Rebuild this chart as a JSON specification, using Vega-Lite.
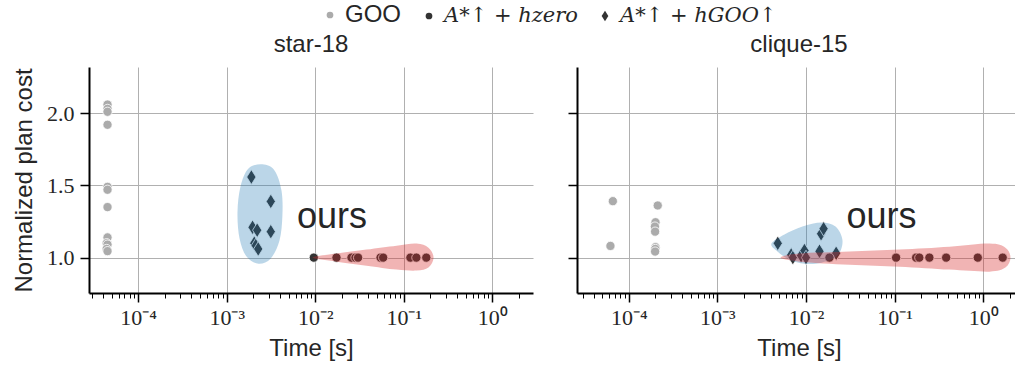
{
  "$schema": "https://vega.github.io/schema/vega-lite/v6.json",
  "padding": {"left": 12, "top": 10, "right": 0, "bottom": 3},
  "datasets": {
    "pts": [
      {"panel": "star-18", "method": "GOO", "time": 4.5e-5, "cost": 2.06},
      {"panel": "star-18", "method": "GOO", "time": 4.5e-5, "cost": 2.03},
      {"panel": "star-18", "method": "GOO", "time": 4.5e-5, "cost": 2.01},
      {"panel": "star-18", "method": "GOO", "time": 4.5e-5, "cost": 1.92},
      {"panel": "star-18", "method": "GOO", "time": 4.5e-5, "cost": 1.49},
      {"panel": "star-18", "method": "GOO", "time": 4.5e-5, "cost": 1.47},
      {"panel": "star-18", "method": "GOO", "time": 4.5e-5, "cost": 1.35},
      {"panel": "star-18", "method": "GOO", "time": 4.5e-5, "cost": 1.14},
      {"panel": "star-18", "method": "GOO", "time": 4.4e-5, "cost": 1.1},
      {"panel": "star-18", "method": "GOO", "time": 4.5e-5, "cost": 1.09},
      {"panel": "star-18", "method": "GOO", "time": 4.4e-5, "cost": 1.06},
      {"panel": "star-18", "method": "GOO", "time": 4.5e-5, "cost": 1.045},
      {"panel": "star-18", "method": "A*↑ + hGOO↑", "time": 0.0019, "cost": 1.558},
      {"panel": "star-18", "method": "A*↑ + hGOO↑", "time": 0.00315, "cost": 1.389},
      {"panel": "star-18", "method": "A*↑ + hGOO↑", "time": 0.00196, "cost": 1.21},
      {"panel": "star-18", "method": "A*↑ + hGOO↑", "time": 0.00221, "cost": 1.19},
      {"panel": "star-18", "method": "A*↑ + hGOO↑", "time": 0.00315, "cost": 1.18},
      {"panel": "star-18", "method": "A*↑ + hGOO↑", "time": 0.00205, "cost": 1.1},
      {"panel": "star-18", "method": "A*↑ + hGOO↑", "time": 0.00213, "cost": 1.083},
      {"panel": "star-18", "method": "A*↑ + hGOO↑", "time": 0.00227, "cost": 1.06},
      {"panel": "star-18", "method": "A*↑ + hzero", "time": 0.00964, "cost": 1.0},
      {"panel": "star-18", "method": "A*↑ + hzero", "time": 0.0174, "cost": 1.0},
      {"panel": "star-18", "method": "A*↑ + hzero", "time": 0.0257, "cost": 1.0},
      {"panel": "star-18", "method": "A*↑ + hzero", "time": 0.0285, "cost": 1.0},
      {"panel": "star-18", "method": "A*↑ + hzero", "time": 0.0305, "cost": 1.0},
      {"panel": "star-18", "method": "A*↑ + hzero", "time": 0.0547, "cost": 1.0},
      {"panel": "star-18", "method": "A*↑ + hzero", "time": 0.0586, "cost": 1.0},
      {"panel": "star-18", "method": "A*↑ + hzero", "time": 0.119, "cost": 1.0},
      {"panel": "star-18", "method": "A*↑ + hzero", "time": 0.139, "cost": 1.0},
      {"panel": "star-18", "method": "A*↑ + hzero", "time": 0.18, "cost": 1.0},
      {"panel": "clique-15", "method": "GOO", "time": 6.6e-5, "cost": 1.391},
      {"panel": "clique-15", "method": "GOO", "time": 6.2e-5, "cost": 1.081},
      {"panel": "clique-15", "method": "GOO", "time": 0.000212, "cost": 1.361},
      {"panel": "clique-15", "method": "GOO", "time": 0.0002, "cost": 1.245},
      {"panel": "clique-15", "method": "GOO", "time": 0.000197, "cost": 1.215},
      {"panel": "clique-15", "method": "GOO", "time": 0.000198, "cost": 1.18},
      {"panel": "clique-15", "method": "GOO", "time": 0.0002, "cost": 1.072},
      {"panel": "clique-15", "method": "GOO", "time": 0.000199, "cost": 1.06},
      {"panel": "clique-15", "method": "GOO", "time": 0.000198, "cost": 1.042},
      {"panel": "clique-15", "method": "A*↑ + hGOO↑", "time": 0.0048, "cost": 1.099},
      {"panel": "clique-15", "method": "A*↑ + hGOO↑", "time": 0.0068, "cost": 1.019},
      {"panel": "clique-15", "method": "A*↑ + hGOO↑", "time": 0.0071, "cost": 1.0},
      {"panel": "clique-15", "method": "A*↑ + hGOO↑", "time": 0.0088, "cost": 1.014},
      {"panel": "clique-15", "method": "A*↑ + hGOO↑", "time": 0.0096, "cost": 1.049},
      {"panel": "clique-15", "method": "A*↑ + hGOO↑", "time": 0.01, "cost": 1.0},
      {"panel": "clique-15", "method": "A*↑ + hGOO↑", "time": 0.0142, "cost": 1.044},
      {"panel": "clique-15", "method": "A*↑ + hGOO↑", "time": 0.0148, "cost": 1.165},
      {"panel": "clique-15", "method": "A*↑ + hGOO↑", "time": 0.0158, "cost": 1.2},
      {"panel": "clique-15", "method": "A*↑ + hGOO↑", "time": 0.0219, "cost": 1.03},
      {"panel": "clique-15", "method": "A*↑ + hzero", "time": 0.0184, "cost": 1.0},
      {"panel": "clique-15", "method": "A*↑ + hzero", "time": 0.104, "cost": 1.0},
      {"panel": "clique-15", "method": "A*↑ + hzero", "time": 0.175, "cost": 1.0},
      {"panel": "clique-15", "method": "A*↑ + hzero", "time": 0.19, "cost": 1.0},
      {"panel": "clique-15", "method": "A*↑ + hzero", "time": 0.247, "cost": 1.0},
      {"panel": "clique-15", "method": "A*↑ + hzero", "time": 0.382, "cost": 1.0},
      {"panel": "clique-15", "method": "A*↑ + hzero", "time": 0.869, "cost": 1.0},
      {"panel": "clique-15", "method": "A*↑ + hzero", "time": 1.66, "cost": 1.0}
    ],
    "hull": [
      {"panel": "star-18", "group": "goo", "i": 0, "time": 0.002535, "cost": 1.646},
      {"panel": "star-18", "group": "goo", "i": 1, "time": 0.003467, "cost": 1.604},
      {"panel": "star-18", "group": "goo", "i": 2, "time": 0.00416, "cost": 1.465},
      {"panel": "star-18", "group": "goo", "i": 3, "time": 0.00426, "cost": 1.292},
      {"panel": "star-18", "group": "goo", "i": 4, "time": 0.00395, "cost": 1.118},
      {"panel": "star-18", "group": "goo", "i": 5, "time": 0.00313, "cost": 0.993},
      {"panel": "star-18", "group": "goo", "i": 6, "time": 0.002286, "cost": 0.958},
      {"panel": "star-18", "group": "goo", "i": 7, "time": 0.001675, "cost": 1.007},
      {"panel": "star-18", "group": "goo", "i": 8, "time": 0.001397, "cost": 1.132},
      {"panel": "star-18", "group": "goo", "i": 9, "time": 0.001324, "cost": 1.3125},
      {"panel": "star-18", "group": "goo", "i": 10, "time": 0.001432, "cost": 1.493},
      {"panel": "star-18", "group": "goo", "i": 11, "time": 0.001762, "cost": 1.618},
      {"panel": "star-18", "group": "zero", "i": 0, "time": 0.00931, "cost": 1.0},
      {"panel": "star-18", "group": "zero", "i": 1, "time": 0.01742, "cost": 1.028},
      {"panel": "star-18", "group": "zero", "i": 2, "time": 0.03802, "cost": 1.056},
      {"panel": "star-18", "group": "zero", "i": 3, "time": 0.08299, "cost": 1.083},
      {"panel": "star-18", "group": "zero", "i": 4, "time": 0.1396, "cost": 1.097},
      {"panel": "star-18", "group": "zero", "i": 5, "time": 0.1905, "cost": 1.069},
      {"panel": "star-18", "group": "zero", "i": 6, "time": 0.2173, "cost": 1.0},
      {"panel": "star-18", "group": "zero", "i": 7, "time": 0.1905, "cost": 0.931},
      {"panel": "star-18", "group": "zero", "i": 8, "time": 0.1396, "cost": 0.91},
      {"panel": "star-18", "group": "zero", "i": 9, "time": 0.08299, "cost": 0.917},
      {"panel": "star-18", "group": "zero", "i": 10, "time": 0.03802, "cost": 0.944},
      {"panel": "star-18", "group": "zero", "i": 11, "time": 0.01742, "cost": 0.972},
      {"panel": "clique-15", "group": "goo", "i": 0, "time": 0.00407, "cost": 1.097},
      {"panel": "clique-15", "group": "goo", "i": 1, "time": 0.00571, "cost": 1.16},
      {"panel": "clique-15", "group": "goo", "i": 2, "time": 0.00912, "cost": 1.215},
      {"panel": "clique-15", "group": "goo", "i": 3, "time": 0.01496, "cost": 1.243},
      {"panel": "clique-15", "group": "goo", "i": 4, "time": 0.02153, "cost": 1.215},
      {"panel": "clique-15", "group": "goo", "i": 5, "time": 0.02582, "cost": 1.118},
      {"panel": "clique-15", "group": "goo", "i": 6, "time": 0.02265, "cost": 1.014},
      {"panel": "clique-15", "group": "goo", "i": 7, "time": 0.01496, "cost": 0.965},
      {"panel": "clique-15", "group": "goo", "i": 8, "time": 0.00962, "cost": 0.958},
      {"panel": "clique-15", "group": "goo", "i": 9, "time": 0.0065, "cost": 0.986},
      {"panel": "clique-15", "group": "goo", "i": 10, "time": 0.00476, "cost": 1.042},
      {"panel": "clique-15", "group": "zero", "i": 0, "time": 0.00515, "cost": 1.0},
      {"panel": "clique-15", "group": "zero", "i": 1, "time": 0.00843, "cost": 1.028},
      {"panel": "clique-15", "group": "zero", "i": 2, "time": 0.03097, "cost": 1.042},
      {"panel": "clique-15", "group": "zero", "i": 3, "time": 0.1135, "cost": 1.056},
      {"panel": "clique-15", "group": "zero", "i": 4, "time": 0.4159, "cost": 1.076},
      {"panel": "clique-15", "group": "zero", "i": 5, "time": 1.178, "cost": 1.097},
      {"panel": "clique-15", "group": "zero", "i": 6, "time": 1.782, "cost": 1.069},
      {"panel": "clique-15", "group": "zero", "i": 7, "time": 2.032, "cost": 1.0},
      {"panel": "clique-15", "group": "zero", "i": 8, "time": 1.782, "cost": 0.931},
      {"panel": "clique-15", "group": "zero", "i": 9, "time": 1.178, "cost": 0.903},
      {"panel": "clique-15", "group": "zero", "i": 10, "time": 0.4159, "cost": 0.917},
      {"panel": "clique-15", "group": "zero", "i": 11, "time": 0.1135, "cost": 0.9375},
      {"panel": "clique-15", "group": "zero", "i": 12, "time": 0.03097, "cost": 0.951},
      {"panel": "clique-15", "group": "zero", "i": 13, "time": 0.00843, "cost": 0.972}
    ],
    "notes": [
      {"panel": "star-18", "time": 0.0155, "cost": 1.278, "label": "ours"},
      {"panel": "clique-15", "time": 0.0711, "cost": 1.278, "label": "ours"}
    ]
  },
  "hconcat": [
    {
      "width": 444,
      "height": 226,
      "title": {"text": "star-18"},
      "layer": [
        {
          "data": {"name": "pts"},
          "transform": [{"filter": "datum.panel === 'star-18'"}],
          "mark": {"type": "point", "filled": true, "opacity": 1, "stroke": "white", "strokeWidth": 0.8, "size": 85},
          "encoding": {
            "x": {"field": "time", "type": "quantitative",
              "scale": {"type": "log", "domain": [2.78e-5, 2.891], "nice": false},
              "axis": {
                "title": "Time [s]",
                "values": [3e-5, 4e-5, 5e-5, 6e-5, 7e-5, 8e-5, 9e-5, 0.0001, 0.0002, 0.0003, 0.0004, 0.0005, 0.0006, 0.0007, 0.0008, 0.0009, 0.001, 0.002, 0.003, 0.004, 0.005, 0.006, 0.007, 0.008, 0.009, 0.01, 0.02, 0.03, 0.04, 0.05, 0.06, 0.07, 0.08, 0.09, 0.1, 0.2, 0.3, 0.4, 0.5, 0.6, 0.7, 0.8, 0.9, 1, 2],
                "labelExpr": "abs(log(datum.value)/LN10 - round(log(datum.value)/LN10)) < 0.01 ? (datum.value < 0.0005 ? '10⁻⁴' : datum.value < 0.005 ? '10⁻³' : datum.value < 0.05 ? '10⁻²' : datum.value < 0.5 ? '10⁻¹' : '10⁰') : ''",
                "tickSize": {"condition": {"test": "abs(log(datum.value)/LN10 - round(log(datum.value)/LN10)) < 0.01", "value": 9}, "value": 5},
                "tickWidth": {"condition": {"test": "abs(log(datum.value)/LN10 - round(log(datum.value)/LN10)) < 0.01", "value": 1.5}, "value": 1},
                "gridOpacity": {"condition": {"test": "abs(log(datum.value)/LN10 - round(log(datum.value)/LN10)) < 0.01", "value": 1}, "value": 0}
              }
            },
            "y": {"field": "cost", "type": "quantitative",
              "scale": {"domain": [0.755, 2.32], "nice": false, "zero": false},
              "axis": {"title": "Normalized plan cost", "values": [1.0, 1.5, 2.0], "format": ".1f"}
            },
            "color": {"field": "method", "type": "nominal",
              "scale": {"domain": ["GOO", "A*↑ + hzero", "A*↑ + hGOO↑"], "range": ["#ababab", "#333333", "#333333"]},
              "legend": {
                "orient": "none", "legendX": 236, "legendY": -57, "direction": "horizontal", "title": null,
                "labelFontSize": 24, "labelFont": "Liberation Sans", "labelColor": "#262626", "symbolSize": 45, "symbolStrokeWidth": 0,
                "columnPadding": 22, "labelOffset": 10,
                "encoding": {"labels": {
                  "font": {"condition": {"test": "datum.label === 'GOO'", "value": "Liberation Sans"}, "value": "DejaVu Serif"},
                  "fontStyle": {"condition": {"test": "datum.label === 'GOO'", "value": "normal"}, "value": "italic"},
                  "fontSize": {"condition": {"test": "datum.label === 'GOO'", "value": 24}, "value": 21}
                }}
              }
            },
            "shape": {"field": "method", "type": "nominal",
              "scale": {"domain": ["GOO", "A*↑ + hzero", "A*↑ + hGOO↑"], "range": ["circle", "circle", "M0,-1.6L1,0L0,1.6L-1,0Z"]}
            }
          }
        },
        {
          "data": {"name": "hull"},
          "transform": [{"filter": "datum.panel === 'star-18' && datum.group === 'goo'"}],
          "mark": {"type": "line", "interpolate": "cardinal-closed", "fill": "#1f77b4", "fillOpacity": 0.3, "strokeWidth": 0, "strokeOpacity": 0},
          "encoding": {
            "x": {"field": "time", "type": "quantitative"},
            "y": {"field": "cost", "type": "quantitative"},
            "order": {"field": "i", "type": "quantitative"}
          }
        },
        {
          "data": {"name": "hull"},
          "transform": [{"filter": "datum.panel === 'star-18' && datum.group === 'zero'"}],
          "mark": {"type": "line", "interpolate": "cardinal-closed", "fill": "#d62728", "fillOpacity": 0.35, "strokeWidth": 0, "strokeOpacity": 0},
          "encoding": {
            "x": {"field": "time", "type": "quantitative"},
            "y": {"field": "cost", "type": "quantitative"},
            "order": {"field": "i", "type": "quantitative"}
          }
        },
        {
          "data": {"name": "notes"},
          "transform": [{"filter": "datum.panel === 'star-18'"}],
          "mark": {"type": "text", "fontSize": 36, "font": "Liberation Sans", "color": "#262626", "align": "center", "baseline": "middle"},
          "encoding": {
            "x": {"field": "time", "type": "quantitative"},
            "y": {"field": "cost", "type": "quantitative"},
            "text": {"field": "label"}
          }
        }
      ]
    },
    {
      "width": 438,
      "height": 226,
      "title": {"text": "clique-15", "dx": 3},
      "layer": [
        {
          "data": {"name": "pts"},
          "transform": [{"filter": "datum.panel === 'clique-15'"}],
          "mark": {"type": "point", "filled": true, "opacity": 1, "stroke": "white", "strokeWidth": 0.8, "size": 85},
          "encoding": {
            "x": {"field": "time", "type": "quantitative",
              "scale": {"type": "log", "domain": [2.6e-5, 2.286], "nice": false},
              "axis": {
                "title": "Time [s]", "titleX": 222,
                "values": [3e-5, 4e-5, 5e-5, 6e-5, 7e-5, 8e-5, 9e-5, 0.0001, 0.0002, 0.0003, 0.0004, 0.0005, 0.0006, 0.0007, 0.0008, 0.0009, 0.001, 0.002, 0.003, 0.004, 0.005, 0.006, 0.007, 0.008, 0.009, 0.01, 0.02, 0.03, 0.04, 0.05, 0.06, 0.07, 0.08, 0.09, 0.1, 0.2, 0.3, 0.4, 0.5, 0.6, 0.7, 0.8, 0.9, 1, 2],
                "labelExpr": "abs(log(datum.value)/LN10 - round(log(datum.value)/LN10)) < 0.01 ? (datum.value < 0.0005 ? '10⁻⁴' : datum.value < 0.005 ? '10⁻³' : datum.value < 0.05 ? '10⁻²' : datum.value < 0.5 ? '10⁻¹' : '10⁰') : ''",
                "tickSize": {"condition": {"test": "abs(log(datum.value)/LN10 - round(log(datum.value)/LN10)) < 0.01", "value": 9}, "value": 5},
                "tickWidth": {"condition": {"test": "abs(log(datum.value)/LN10 - round(log(datum.value)/LN10)) < 0.01", "value": 1.5}, "value": 1},
                "gridOpacity": {"condition": {"test": "abs(log(datum.value)/LN10 - round(log(datum.value)/LN10)) < 0.01", "value": 1}, "value": 0}
              }
            },
            "y": {"field": "cost", "type": "quantitative",
              "scale": {"domain": [0.755, 2.32], "nice": false, "zero": false},
              "axis": {"title": null, "values": [1.0, 1.5, 2.0], "labels": false}
            },
            "color": {"field": "method", "type": "nominal",
              "scale": {"domain": ["GOO", "A*↑ + hzero", "A*↑ + hGOO↑"], "range": ["#ababab", "#333333", "#333333"]}
            },
            "shape": {"field": "method", "type": "nominal",
              "scale": {"domain": ["GOO", "A*↑ + hzero", "A*↑ + hGOO↑"], "range": ["circle", "circle", "M0,-1.6L1,0L0,1.6L-1,0Z"]}
            }
          }
        },
        {
          "data": {"name": "hull"},
          "transform": [{"filter": "datum.panel === 'clique-15' && datum.group === 'goo'"}],
          "mark": {"type": "line", "interpolate": "cardinal-closed", "fill": "#1f77b4", "fillOpacity": 0.3, "strokeWidth": 0, "strokeOpacity": 0},
          "encoding": {
            "x": {"field": "time", "type": "quantitative"},
            "y": {"field": "cost", "type": "quantitative"},
            "order": {"field": "i", "type": "quantitative"}
          }
        },
        {
          "data": {"name": "hull"},
          "transform": [{"filter": "datum.panel === 'clique-15' && datum.group === 'zero'"}],
          "mark": {"type": "line", "interpolate": "cardinal-closed", "fill": "#d62728", "fillOpacity": 0.35, "strokeWidth": 0, "strokeOpacity": 0},
          "encoding": {
            "x": {"field": "time", "type": "quantitative"},
            "y": {"field": "cost", "type": "quantitative"},
            "order": {"field": "i", "type": "quantitative"}
          }
        },
        {
          "data": {"name": "notes"},
          "transform": [{"filter": "datum.panel === 'clique-15'"}],
          "mark": {"type": "text", "fontSize": 36, "font": "Liberation Sans", "color": "#262626", "align": "center", "baseline": "middle"},
          "encoding": {
            "x": {"field": "time", "type": "quantitative"},
            "y": {"field": "cost", "type": "quantitative"},
            "text": {"field": "label"}
          }
        }
      ]
    }
  ],
  "spacing": 34,
  "resolve": {"scale": {"color": "shared", "shape": "shared"}},
  "config": {
    "view": {"stroke": null},
    "font": "Liberation Sans",
    "axis": {
      "domainColor": "#000000", "domainWidth": 2, "tickColor": "#000000",
      "gridColor": "#b0b0b0", "gridWidth": 1,
      "labelFont": "Liberation Serif", "labelFontSize": 22, "labelColor": "#262626",
      "labelOverlap": false, "labelFlush": false,
      "titleFont": "Liberation Sans", "titleFontSize": 24, "titleFontWeight": "normal", "titleColor": "#262626"
    },
    "axisY": {"tickSize": 9, "tickWidth": 1.5, "labelPadding": 6, "titlePadding": 10},
    "axisX": {"labelPadding": 5, "titlePadding": 8},
    "title": {"fontSize": 24, "fontWeight": "normal", "font": "Liberation Sans", "color": "#262626", "offset": 10}
  }
}
